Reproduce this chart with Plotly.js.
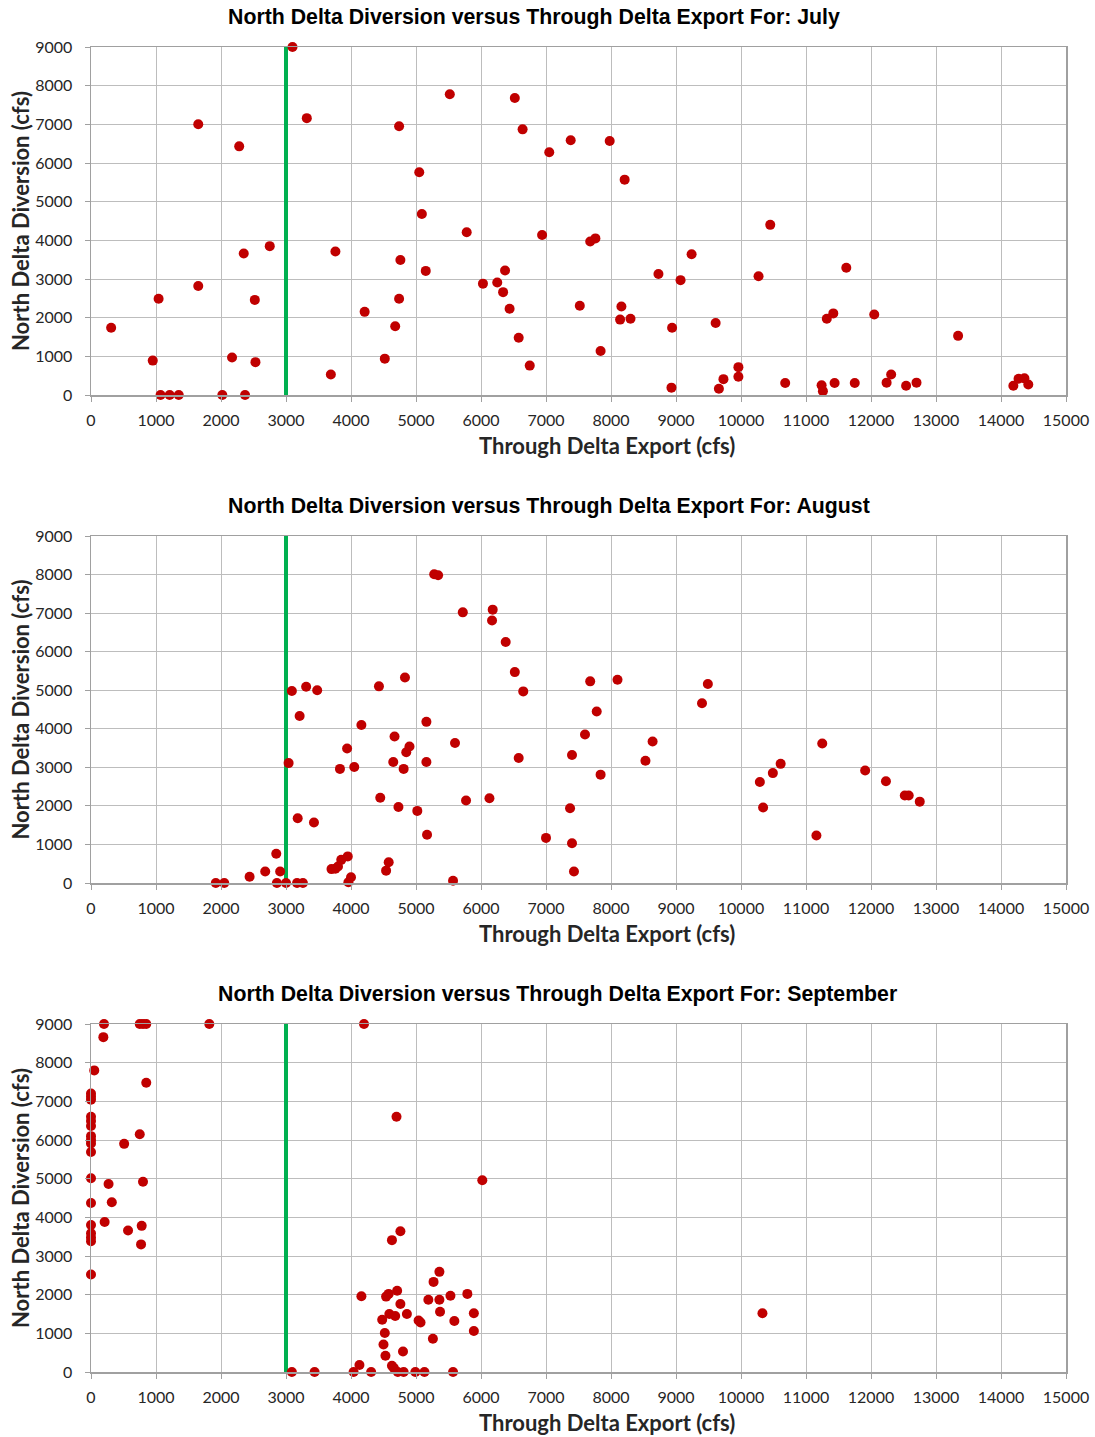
<!DOCTYPE html>
<html>
<head>
<meta charset="utf-8">
<script src="https://cdn.plot.ly/plotly-3.0.1.min.js"></script>
<style>
  html, body { margin: 0; padding: 0; background: #ffffff; }
  #chart { width: 1095px; height: 1437px; }
</style>
</head>
<body>
<div id="chart"></div>
<script>
// ---------------- Data ----------------
const months = ["July", "August", "September"];
const exportThreshold = [3000, 3000];
const thresholdSpan = [0, 9000];

const julyX = [310, 950, 1040, 1070, 1210, 1350, 1650, 1650, 2020, 2170,
  2280, 2350, 2370, 2520, 2530, 2750, 3100, 3320, 3690, 3760,
  4210, 4520, 4680, 4740, 4740, 4760, 5050, 5090, 5150, 5520,
  5780, 6030, 6250, 6340, 6370, 6440, 6520, 6580, 6640, 6750,
  6940, 7050, 7380, 7980, 8210, 7680, 7760, 7520, 8160, 8140,
  8300, 7840, 8730, 9240, 9070, 8940, 8930, 9610, 9660, 9730,
  9960, 9960, 10270, 10450, 10680, 11240, 11260, 11320, 11420, 11440,
  11620, 11750, 12050, 12240, 12310, 12540, 12700, 13340, 14190, 14270,
  14360, 14420];
const julyY = [1740, 890, 2490, 0, 0, 0, 7000, 2820, 0, 970,
  6430, 3660, 0, 2460, 850, 3850, 9000, 7160, 530, 3710,
  2150, 940, 1780, 6950, 2490, 3490, 5760, 4680, 3210, 7780,
  4210, 2880, 2910, 2660, 3220, 2230, 7680, 1480, 6870, 760,
  4140, 6280, 6590, 6570, 5570, 3970, 4050, 2310, 2290, 1950,
  1970, 1140, 3130, 3640, 2970, 1740, 190, 1860, 160, 410,
  720, 470, 3070, 4400, 310, 250, 100, 1970, 2110, 310,
  3290, 310, 2080, 320, 530, 240, 320, 1530, 240, 420,
  430, 270];

const augX = [1920, 2050, 2440, 2680, 2850, 2910, 2860, 3000, 3040, 3090,
  3170, 3260, 3180, 3210, 3310, 3430, 3480, 3700, 3760, 3800,
  3830, 3850, 3950, 3940, 3960, 4000, 4050, 4160, 4430, 4450,
  4540, 4580, 4650, 4670, 4730, 4810, 4830, 4850, 4900, 5020,
  5160, 5160, 5170, 5280, 5340, 5570, 5600, 5720, 5770, 6130,
  6180, 6170, 6380, 6520, 6580, 6650, 7000, 7680, 8100, 7780,
  7600, 7400, 7840, 7370, 7400, 7430, 8530, 8640, 9400, 9490,
  10290, 10340, 10490, 10610, 11160, 11250, 11910, 12230, 12520, 12580,
  12750];
const augY = [0, 0, 160, 300, 760, 300, 0, 0, 3110, 4980,
  0, 0, 1680, 4330, 5090, 1570, 5000, 360, 370, 430,
  2960, 600, 690, 3490, 20, 150, 3010, 4100, 5100, 2210,
  320, 540, 3140, 3800, 1970, 2960, 5330, 3390, 3540, 1870,
  3140, 4180, 1250, 8010, 7980, 60, 3630, 7020, 2140, 2200,
  7090, 6810, 6250, 5470, 3240, 4970, 1170, 5230, 5270, 4450,
  3850, 3320, 2810, 1940, 1030, 300, 3170, 3670, 4660, 5160,
  2620, 1960, 2850, 3090, 1230, 3620, 2920, 2640, 2270, 2270,
  2110];

const sepX = [200, 190, 750, 800, 850, 1820, 4200, 50, 850, 0,
  0, 0, 0, 0, 0, 0, 0, 0, 0, 750,
  510, 0, 270, 800, 0, 320, 0, 0, 0, 0,
  210, 570, 780, 770, 0, 3090, 3440, 4700, 6020, 10330,
  4760, 4630, 4160, 4540, 4580, 4710, 4760, 4590, 4680, 4860,
  4480, 5040, 5070, 4520, 4500, 4530, 4800, 4130, 4040, 4310,
  4630, 4660, 4720, 4810, 4990, 5130, 5570, 5190, 5270, 5360,
  5360, 5370, 5260, 5530, 5590, 5790, 5890, 5890];
const sepY = [9000, 8660, 9000, 9000, 9000, 9000, 9000, 7800, 7480, 7200,
  7120, 7040, 6600, 6490, 6360, 6100, 6000, 5910, 5690, 6150,
  5900, 5010, 4860, 4920, 4370, 4390, 3800, 3590, 3480, 3380,
  3880, 3660, 3780, 3300, 2520, 0, 0, 6600, 4960, 1520,
  3640, 3410, 1960, 1950, 2020, 2100, 1760, 1500, 1450, 1500,
  1350, 1330, 1280, 1010, 710, 420, 530, 180, 0, 0,
  160, 100, 0, 0, 0, 0, 0, 1870, 2330, 2590,
  1870, 1560, 860, 1970, 1320, 2020, 1520, 1060];

const xTickVals = [0, 1000, 2000, 3000, 4000, 5000, 6000, 7000, 8000, 9000, 10000, 11000, 12000, 13000, 14000, 15000];
const yTickVals = [0, 1000, 2000, 3000, 4000, 5000, 6000, 7000, 8000, 9000];

const titlePrefix = "North Delta Diversion versus Through Delta Export For: ";
const xTitle = "Through Delta Export (cfs)";
const yTitle = "North Delta Diversion (cfs)";

// ---------------- Layout helpers ----------------
const W = 1095, H = 1437;
const plotLeft = 91, plotRight = 1066;
const panels = [
  {top: 47, bottom: 395, title: 17, titleLeft: 226},
  {top: 536, bottom: 883, title: 506, titleLeft: 226},
  {top: 1024, bottom: 1372, title: 994, titleLeft: 216}
];
const series = [[julyX, julyY], [augX, augY], [sepX, sepY]];

const RED = "#C00000";
const GREEN = "#00B050";
const GRID = "#bdbdbd";
const BORDER = "#a0a0a0";
const tickFont = {family: "Lato, 'Open Sans', sans-serif", size: 16, color: "#262626"};
const axTitleFont = {family: "Lato, 'Open Sans', sans-serif", size: 22, color: "#262626", weight: 700};

const data = [];
const layout = {
  width: W, height: H,
  margin: {l: 0, r: 0, t: 0, b: 0, pad: 0},
  paper_bgcolor: "#ffffff",
  plot_bgcolor: "#ffffff",
  showlegend: false,
  annotations: []
};

panels.forEach((p, i) => {
  const n = i === 0 ? "" : String(i + 1);
  const xa = "x" + n, ya = "y" + n;
  data.push({
    type: "scatter", mode: "lines",
    x: exportThreshold, y: thresholdSpan,
    xaxis: xa, yaxis: ya,
    line: {color: GREEN, width: 4},
    hoverinfo: "skip", cliponaxis: false
  });
  data.push({
    type: "scatter", mode: "markers",
    x: series[i][0], y: series[i][1],
    xaxis: xa, yaxis: ya,
    marker: {color: RED, size: 10, line: {width: 0}},
    cliponaxis: false,
    name: months[i]
  });
  const yDom = [1 - p.bottom / H, 1 - p.top / H];
  layout["xaxis" + n] = {
    domain: [plotLeft / W, plotRight / W],
    anchor: ya,
    range: [0, 15000],
    tickmode: "array", tickvals: xTickVals,
    ticktext: xTickVals.map(String),
    ticks: "outside", ticklen: 5, tickcolor: BORDER, tickwidth: 1,
    ticklabelstandoff: 5,
    showgrid: true, gridcolor: GRID, gridwidth: 1,
    zeroline: false,
    showline: true, linecolor: BORDER, linewidth: 1.5, mirror: true,
    tickfont: tickFont,
    automargin: false
  };
  layout["yaxis" + n] = {
    domain: yDom,
    anchor: xa,
    range: [0, 9000],
    tickmode: "array", tickvals: yTickVals,
    ticktext: yTickVals.map(String),
    ticks: "outside", ticklen: 5, tickcolor: BORDER, tickwidth: 1,
    ticklabelstandoff: 9,
    showgrid: true, gridcolor: GRID, gridwidth: 1,
    zeroline: false,
    showline: true, linecolor: BORDER, linewidth: 1.5, mirror: true,
    tickfont: tickFont,
    automargin: false
  };
  // panel title
  layout.annotations.push({
    xref: "paper", yref: "paper",
    x: p.titleLeft / W, y: 1 - p.title / H,
    xanchor: "left", yanchor: "middle",
    showarrow: false,
    text: "<b>" + titlePrefix + months[i] + "</b>",
    font: {family: "'Liberation Sans', Arial, sans-serif", size: 21.3, color: "#000000"}
  });
  // x-axis title
  layout.annotations.push({
    xref: "paper", yref: "paper",
    x: 607 / W, y: 1 - (p.bottom + 50) / H,
    xanchor: "center", yanchor: "middle",
    showarrow: false,
    text: "<b>" + xTitle + "</b>",
    font: axTitleFont
  });
  // y-axis title
  layout.annotations.push({
    xref: "paper", yref: "paper",
    x: 20 / W, y: 1 - ((p.top + p.bottom) / 2) / H,
    xanchor: "center", yanchor: "middle",
    textangle: -90,
    showarrow: false,
    text: "<b>" + yTitle + "</b>",
    font: axTitleFont
  });
});

Plotly.newPlot("chart", data, layout, {staticPlot: true, displayModeBar: false});
</script>
</body>
</html>
